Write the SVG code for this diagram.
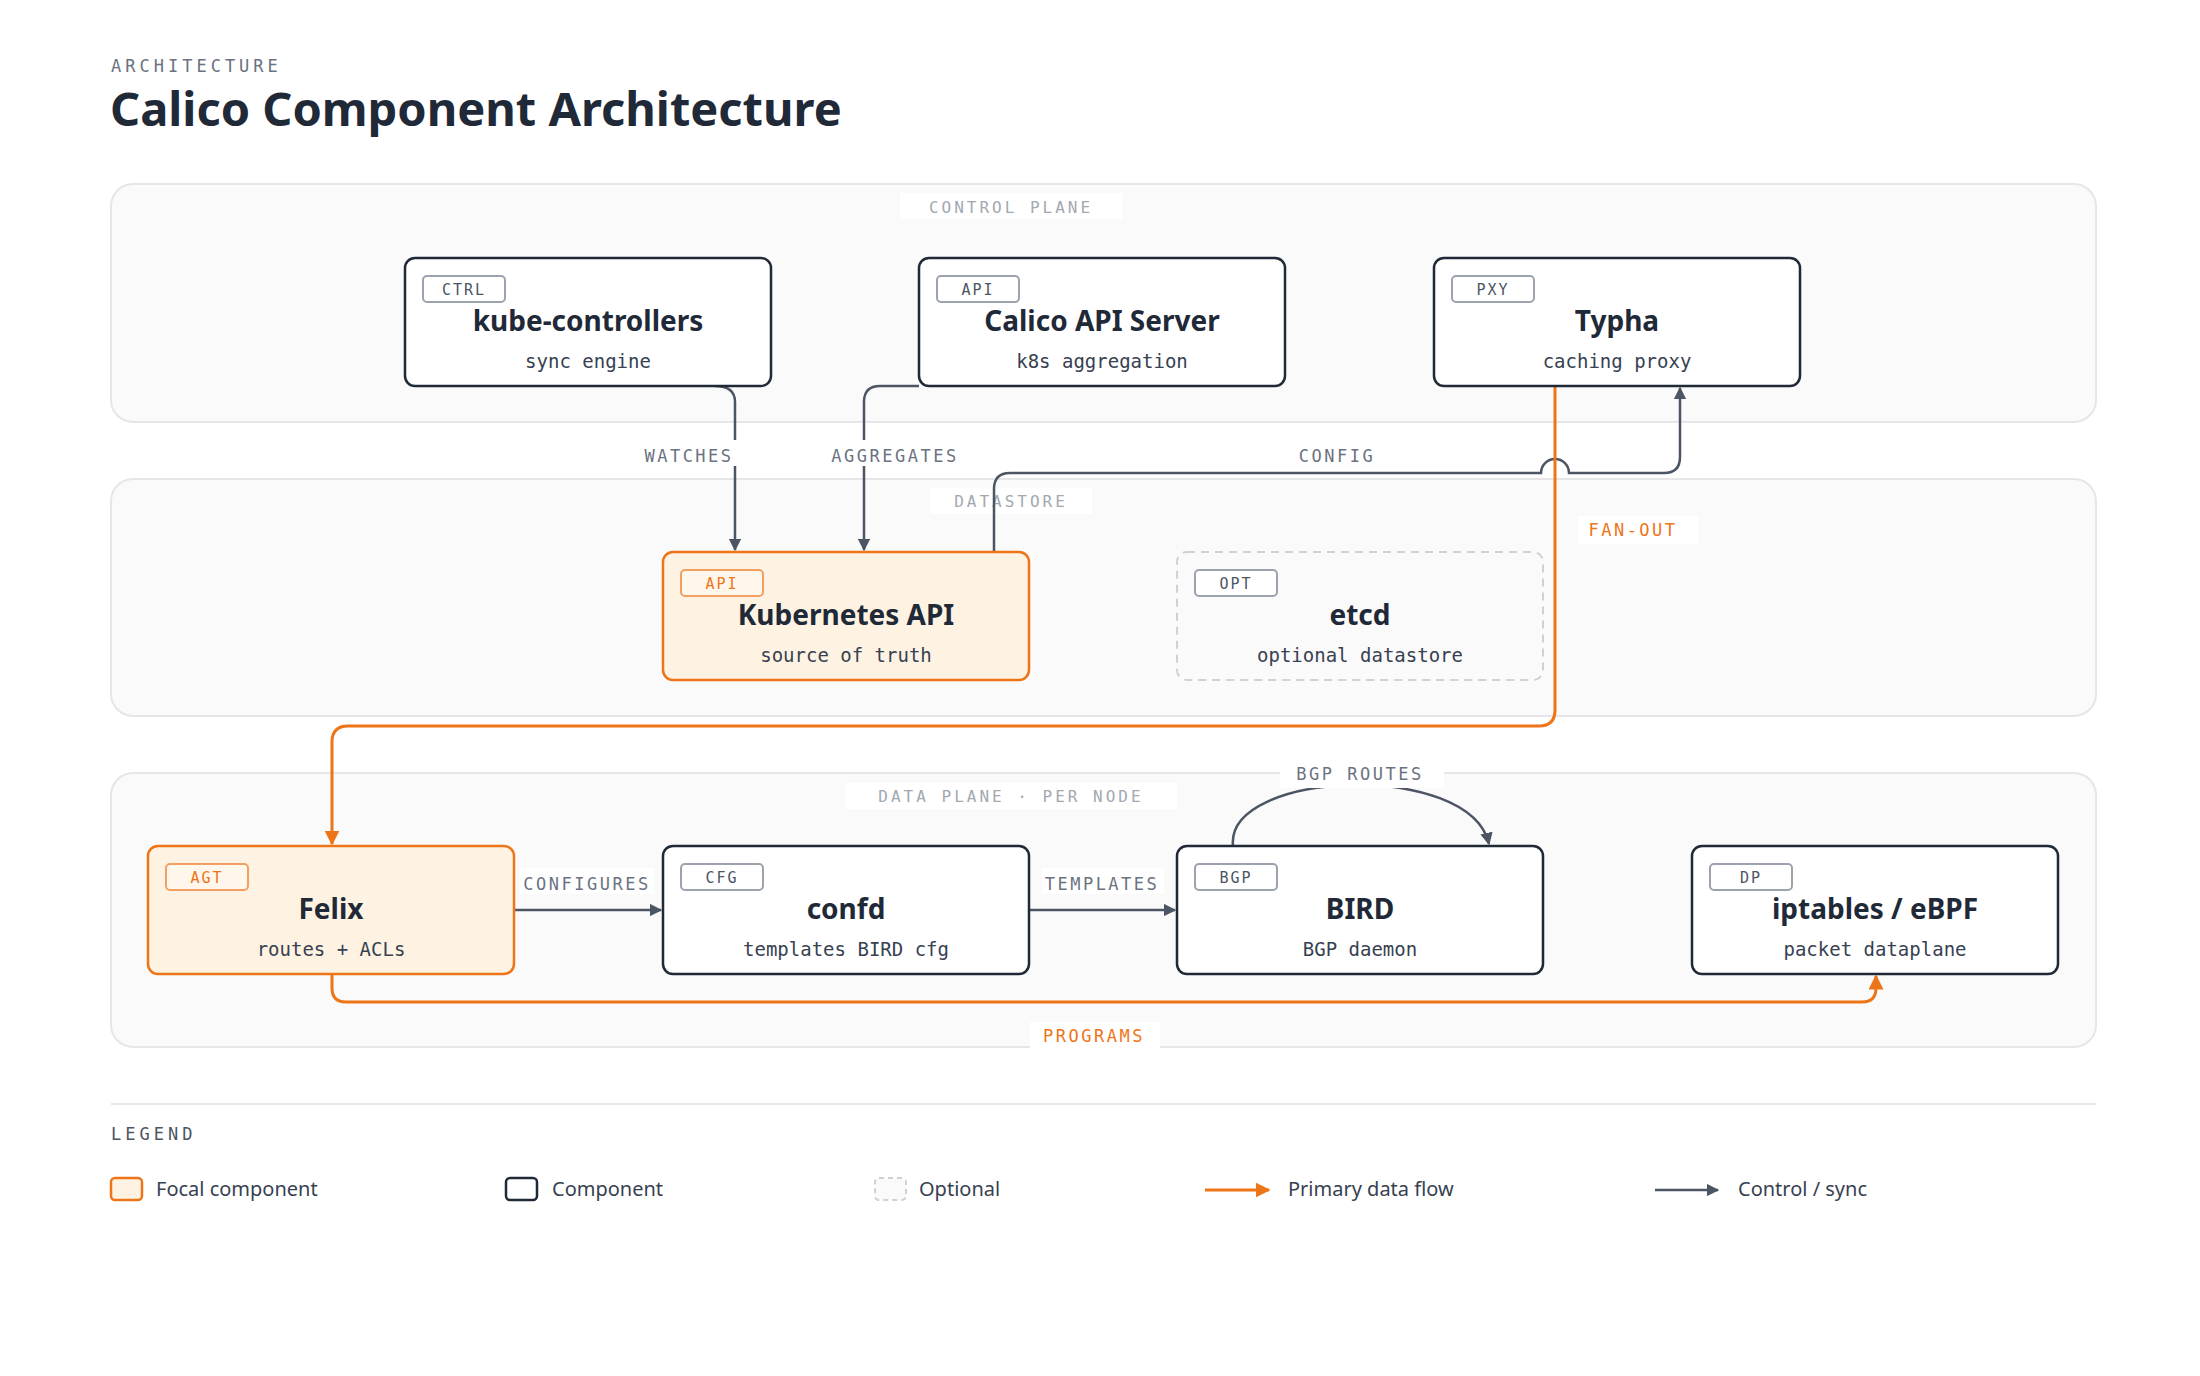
<svg xmlns="http://www.w3.org/2000/svg" width="2200" height="1376" viewBox="0 0 2200 1376">
<style>
.panel{fill:#fafafa;stroke:#e6e6e8;stroke-width:2}
.plabel{font-family:"DejaVu Sans Mono",monospace;font-size:16px;letter-spacing:3px;fill:#a3a8b0;text-anchor:middle}
.node{fill:#fff;stroke:#1f2937;stroke-width:2.5}
.focal{fill:#fef3e2;stroke:#ee7418;stroke-width:2.5}
.opt{fill:#fafafa;stroke:#cfd1d5;stroke-width:2;stroke-dasharray:8 6}
.badge{fill:#fff;stroke:#9ca3af;stroke-width:2}
.badgeF{fill:#fff7ec;stroke:#f2a062;stroke-width:2}
.btext{font-family:"DejaVu Sans Mono",monospace;font-size:15px;letter-spacing:2px;fill:#4b5563;text-anchor:middle}
.btextF{fill:#ee7418}
.title{font-family:"Noto Sans","Open Sans",sans-serif;font-weight:700;font-size:28px;fill:#1f2937;text-anchor:middle}
.sub{font-family:"DejaVu Sans Mono",monospace;font-size:19px;fill:#374151;text-anchor:middle}
.ctl{fill:none;stroke:#4b5563;stroke-width:2.5}
.pri{fill:none;stroke:#ee7418;stroke-width:3}
.elabel{font-family:"DejaVu Sans Mono",monospace;font-size:17px;letter-spacing:2.5px;fill:#6b7280;text-anchor:middle}
.olabel{fill:#ee7418}
.lg{font-family:"Noto Sans","Open Sans",sans-serif;font-size:20px;fill:#374151}
</style>
<defs>
<marker id="ag" viewBox="0 0 10 10" refX="9" refY="5" markerWidth="5" markerHeight="5" orient="auto" markerUnits="strokeWidth"><path d="M0 0L10 5L0 10z" fill="#4b5563"/></marker>
<marker id="ao" viewBox="0 0 10 10" refX="9" refY="5" markerWidth="5" markerHeight="5" orient="auto" markerUnits="strokeWidth"><path d="M0 0L10 5L0 10z" fill="#ee7418"/></marker>
</defs>
<rect width="2200" height="1376" fill="#fff"/>
<text x="111" y="72" font-family="DejaVu Sans Mono,monospace" font-size="17" letter-spacing="4" fill="#6b7280">ARCHITECTURE</text>
<text x="110" y="126" font-family="Noto Sans,Open Sans,sans-serif" font-weight="700" font-size="47" fill="#1f2937">Calico Component Architecture</text>

<g id="panels">
<rect class="panel" x="111" y="184" width="1985" height="238" rx="22"/>
<rect class="panel" x="111" y="479" width="1985" height="237" rx="22"/>
<rect class="panel" x="111" y="773" width="1985" height="274" rx="22"/>
<rect x="900" y="193" width="222" height="26" fill="#fff"/>
<text class="plabel" x="1011" y="213">CONTROL PLANE</text>
<rect x="930" y="488" width="162" height="26" fill="#fff"/>
<text class="plabel" x="1011" y="507">DATASTORE</text>
<rect x="845" y="783" width="332" height="26" fill="#fff"/>
<text class="plabel" x="1011" y="802">DATA PLANE · PER NODE</text>
</g>

<g id="connectors">
<path class="ctl" d="M715 386 Q735 386 735 402 V550" marker-end="url(#ag)"/>
<path class="ctl" d="M919 386 H880 Q864 386 864 402 V550" marker-end="url(#ag)"/>
<path class="ctl" d="M994 552 V489 Q994 473 1010 473 H1541 A14 14 0 0 1 1569 473 H1664 Q1680 473 1680 457 V388" marker-end="url(#ag)"/>
<path class="pri" d="M1555 386 V710 Q1555 726 1539 726 H348 Q332 726 332 742 V844" marker-end="url(#ao)"/>
<path class="ctl" d="M514 910 H661" marker-end="url(#ag)"/>
<path class="ctl" d="M1029 910 H1175" marker-end="url(#ag)"/>
<path class="ctl" d="M1233 846 C1225 770 1470 760 1489 844" marker-end="url(#ag)"/>
<path class="pri" d="M332 974 V988 Q332 1002 346 1002 H1862 Q1876 1002 1876 988 V976" marker-end="url(#ao)"/>
<rect x="639" y="440" width="100" height="26" fill="#fff"/>
<text class="elabel" x="689" y="462">WATCHES</text>
<rect x="826" y="440" width="138" height="26" fill="#fff"/>
<text class="elabel" x="895" y="462">AGGREGATES</text>
<text class="elabel" x="1337" y="462">CONFIG</text>
<rect x="1578" y="516" width="120" height="28" fill="#fff"/>
<text class="elabel olabel" x="1633" y="536">FAN-OUT</text>
<rect x="520" y="868" width="134" height="26" fill="#fff"/>
<text class="elabel" x="587" y="890">CONFIGURES</text>
<rect x="1042" y="868" width="122" height="26" fill="#fff"/>
<text class="elabel" x="1102" y="890">TEMPLATES</text>
<rect x="1280" y="760" width="164" height="28" fill="#fff"/>
<text class="elabel" x="1360" y="780">BGP ROUTES</text>
<rect x="1030" y="1022" width="130" height="28" fill="#fff"/>
<text class="elabel olabel" x="1094" y="1042">PROGRAMS</text>
</g>

<g id="kube-controllers">
<rect class="node" x="405" y="258" width="366" height="128" rx="10"/>
<rect class="badge" x="423" y="276" width="82" height="26" rx="4"/>
<text class="btext" x="464" y="295">CTRL</text>
<text class="title" x="588" y="331">kube-controllers</text>
<text class="sub" x="588" y="368">sync engine</text>
</g>
<g id="calico-api-server">
<rect class="node" x="919" y="258" width="366" height="128" rx="10"/>
<rect class="badge" x="937" y="276" width="82" height="26" rx="4"/>
<text class="btext" x="978" y="295">API</text>
<text class="title" x="1102" y="331">Calico API Server</text>
<text class="sub" x="1102" y="368">k8s aggregation</text>
</g>
<g id="typha">
<rect class="node" x="1434" y="258" width="366" height="128" rx="10"/>
<rect class="badge" x="1452" y="276" width="82" height="26" rx="4"/>
<text class="btext" x="1493" y="295">PXY</text>
<text class="title" x="1617" y="331">Typha</text>
<text class="sub" x="1617" y="368">caching proxy</text>
</g>
<g id="kubernetes-api">
<rect class="focal" x="663" y="552" width="366" height="128" rx="10"/>
<rect class="badgeF" x="681" y="570" width="82" height="26" rx="4"/>
<text class="btext btextF" x="722" y="589">API</text>
<text class="title" x="846" y="625">Kubernetes API</text>
<text class="sub" x="846" y="662">source of truth</text>
</g>
<g id="etcd">
<rect class="opt" x="1177" y="552" width="366" height="128" rx="10"/>
<rect class="badge" x="1195" y="570" width="82" height="26" rx="4"/>
<text class="btext" x="1236" y="589">OPT</text>
<text class="title" x="1360" y="625">etcd</text>
<text class="sub" x="1360" y="662">optional datastore</text>
</g>
<g id="felix">
<rect class="focal" x="148" y="846" width="366" height="128" rx="10"/>
<rect class="badgeF" x="166" y="864" width="82" height="26" rx="4"/>
<text class="btext btextF" x="207" y="883">AGT</text>
<text class="title" x="331" y="919">Felix</text>
<text class="sub" x="331" y="956">routes + ACLs</text>
</g>
<g id="confd">
<rect class="node" x="663" y="846" width="366" height="128" rx="10"/>
<rect class="badge" x="681" y="864" width="82" height="26" rx="4"/>
<text class="btext" x="722" y="883">CFG</text>
<text class="title" x="846" y="919">confd</text>
<text class="sub" x="846" y="956">templates BIRD cfg</text>
</g>
<g id="bird">
<rect class="node" x="1177" y="846" width="366" height="128" rx="10"/>
<rect class="badge" x="1195" y="864" width="82" height="26" rx="4"/>
<text class="btext" x="1236" y="883">BGP</text>
<text class="title" x="1360" y="919">BIRD</text>
<text class="sub" x="1360" y="956">BGP daemon</text>
</g>
<g id="dataplane">
<rect class="node" x="1692" y="846" width="366" height="128" rx="10"/>
<rect class="badge" x="1710" y="864" width="82" height="26" rx="4"/>
<text class="btext" x="1751" y="883">DP</text>
<text class="title" x="1875" y="919">iptables / eBPF</text>
<text class="sub" x="1875" y="956">packet dataplane</text>
</g>

<g id="legend">
<line x1="111" y1="1104" x2="2096" y2="1104" stroke="#e5e7eb" stroke-width="2"/>
<text x="111" y="1140" font-family="DejaVu Sans Mono,monospace" font-size="17" letter-spacing="4" fill="#4b5563">LEGEND</text>
<rect x="111" y="1178" width="31" height="22" rx="4" fill="#fef3e2" stroke="#ee7418" stroke-width="2.5"/>
<text class="lg" x="156" y="1196">Focal component</text>
<rect x="506" y="1178" width="31" height="22" rx="4" fill="#fff" stroke="#1f2937" stroke-width="2.5"/>
<text class="lg" x="552" y="1196">Component</text>
<rect x="875" y="1178" width="31" height="22" rx="4" fill="#fafafa" stroke="#cfd1d5" stroke-width="2" stroke-dasharray="5 4"/>
<text class="lg" x="919" y="1196">Optional</text>
<path class="pri" d="M1205 1190 H1269" marker-end="url(#ao)"/>
<text class="lg" x="1288" y="1196">Primary data flow</text>
<path class="ctl" d="M1655 1190 H1718" marker-end="url(#ag)"/>
<text class="lg" x="1738" y="1196">Control / sync</text>
</g>
</svg>
